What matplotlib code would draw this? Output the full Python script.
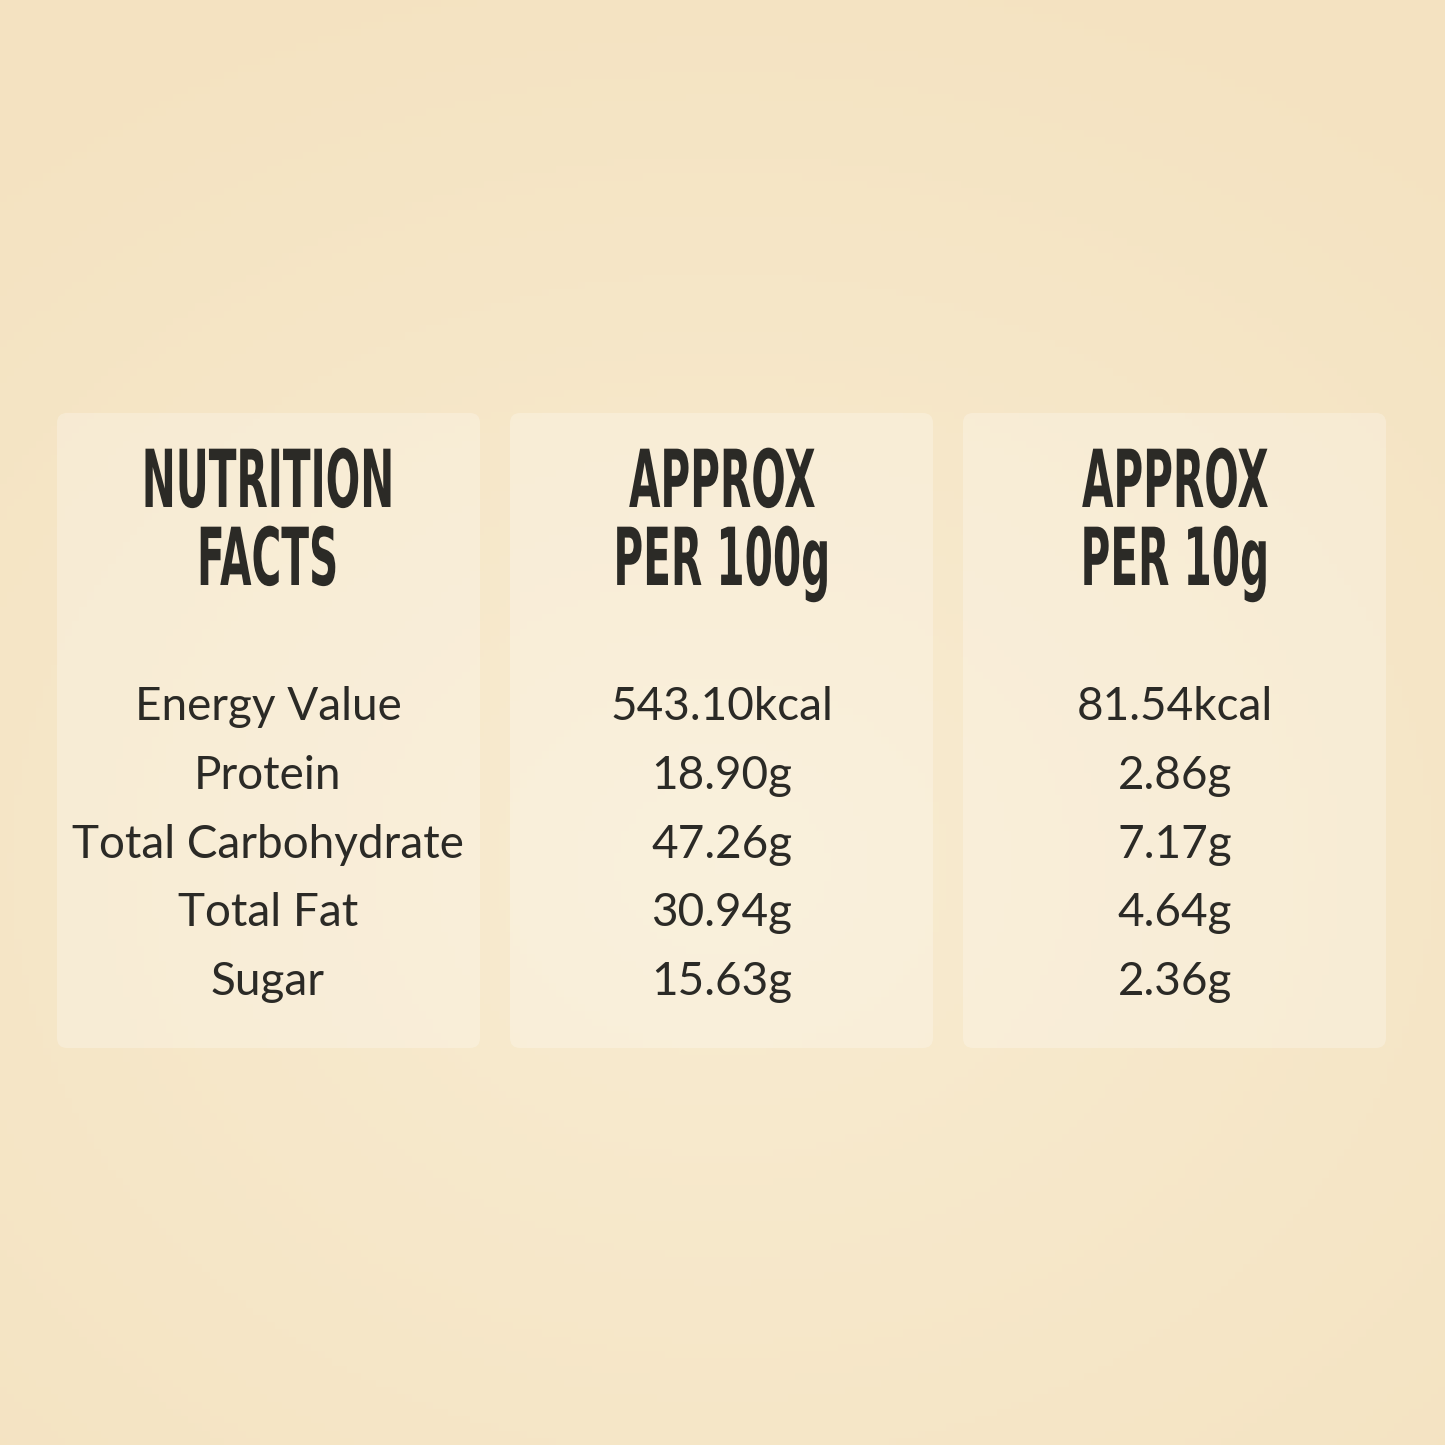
import matplotlib.pyplot as plt
import numpy as np
from matplotlib.patches import FancyBboxPatch, PathPatch
from matplotlib.textpath import TextPath
from matplotlib.font_manager import FontProperties
from matplotlib.transforms import Affine2D

headers = [["NUTRITION", "FACTS"], ["APPROX", "PER 100g"], ["APPROX", "PER 10g"]]
nutrients = ["Energy Value", "Protein", "Total Carbohydrate", "Total Fat", "Sugar"]
per_100g = ["543.10kcal", "18.90g", "47.26g", "30.94g", "15.63g"]
per_10g = ["81.54kcal", "2.86g", "7.17g", "4.64g", "2.36g"]

W = H = 1445
fig = plt.figure(figsize=(14.45, 14.45), dpi=100)
ax = fig.add_axes([0, 0, 1, 1])
ax.set_xlim(0, W)
ax.set_ylim(H, 0)
ax.axis("off")

# background: soft warm gradient, lighter around the middle
yy, xx = np.mgrid[0:1:200j, 0:1:200j]
d = np.sqrt((xx - 0.5) ** 2 + ((yy - 0.6) * 1.2) ** 2)
top = np.array([0.957, 0.890, 0.760])
light = np.array([0.975, 0.925, 0.820])
t = np.clip(d / 0.75, 0, 1)[..., None]
img = light * (1 - t) + top * t
ax.imshow(img, extent=(0, W, H, 0), aspect="auto", zorder=0)

ink = "#2b2a26"
cols = [268, 722, 1175]
lefts = [57, 510, 963]
for left in lefts:
    ax.add_patch(FancyBboxPatch((left, 413), 423, 635,
                                boxstyle="round,pad=0,rounding_size=10",
                                fc="white", alpha=0.25, ec="none", zorder=1))

# condensed headers: squeeze bold glyph paths horizontally
hfont = FontProperties(family="DejaVu Sans", weight="bold")
hsize = 80
ref = TextPath((0, 0), "NUTRITION", size=hsize, prop=hfont).get_extents()
sx = 245 / ref.width
baselines = [507, 585]
for x, lines in zip(cols, headers):
    for base, s in zip(baselines, lines):
        tp = TextPath((0, 0), s, size=hsize, prop=hfont)
        ext = tp.get_extents()
        tr = Affine2D().translate(-(ext.x0 + ext.width / 2), 0).scale(sx, -1).translate(x, base)
        ax.add_patch(PathPatch(tr.transform_path(tp), fc=ink, ec="none", zorder=2))

rows_y = [707, 776, 845, 913, 982]
for column, x in zip([nutrients, per_100g, per_10g], cols):
    for y, s in zip(rows_y, column):
        ax.text(x, y, s, ha="center", va="center", fontsize=33, color=ink,
                family=["Lato", "DejaVu Sans"], zorder=2)

fig.savefig("out.png", dpi=100)
